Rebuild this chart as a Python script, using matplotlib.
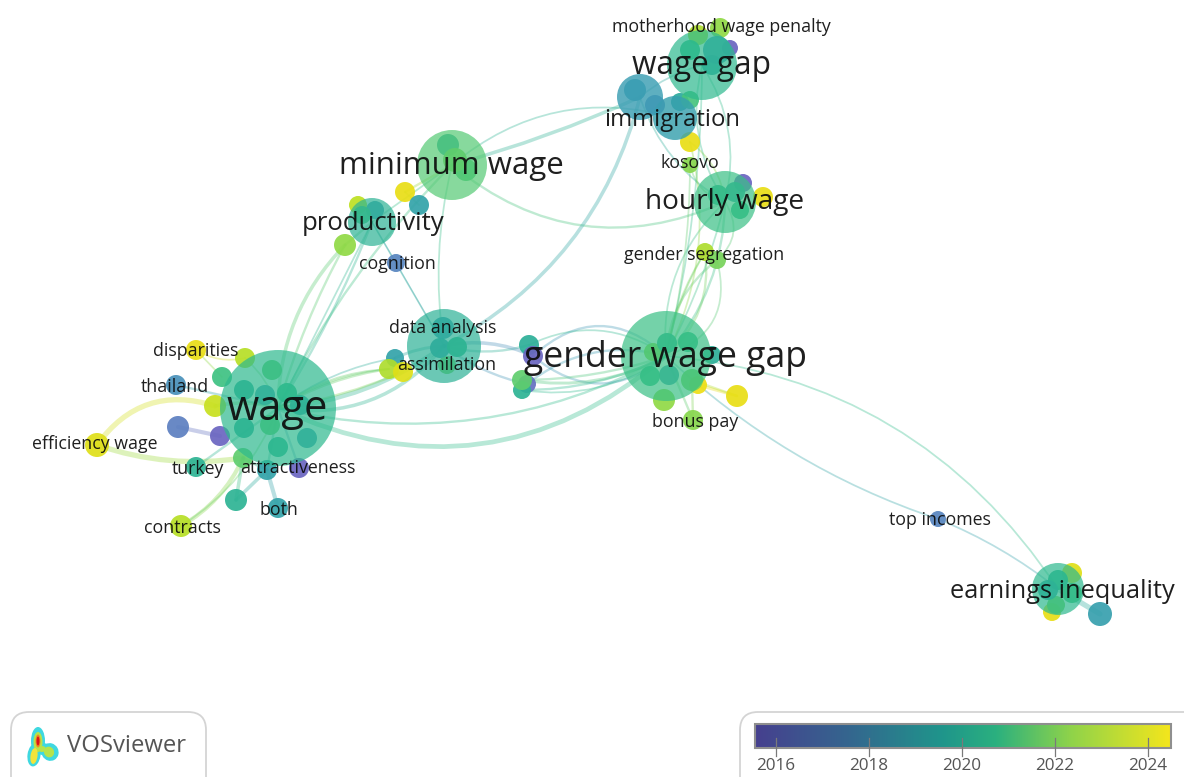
import matplotlib
matplotlib.use("Agg")
import matplotlib.pyplot as plt
import numpy as np
from matplotlib.colors import LinearSegmentedColormap, Normalize
from matplotlib.patches import Circle, FancyBboxPatch, PathPatch, Ellipse
from matplotlib.path import Path

plt.rcParams['font.family'] = ['Open Sans', 'DejaVu Sans']

# --- nodes: id, x, y, radius, average publication year
node_id = ['wage','gwg','gap','minw','hourly','dataB','prod','immA','immB','earn',
 'disp','w1','w2','thai','w3','w4','w5','eff','turk','w6','w7','w8','w9','both','contr',
 'wi1','wi2','wi3','wi4','wi5','wi6','wi7','wi8','wi9',
 'r1','r2','r3','p1','p2','p3','p4','cog','pi1','pi2',
 'mi1','mi2','mi3','d1','d2','d3','d4',
 'm1','m2','m3','m4','m5',
 'g1','g2','g3','g4','g5','g6','g7','g8','g9','bonus','g10',
 'h1','h2','h3','h4','h5','seg1','seg2','kos','k2',
 'i1','i2','i3','i4','mot','a1','a2','a3','a4','a5',
 'top','e1','e2','e3','e4','e5','e6','e7']
node_x = [278,666,702,452,725,444,372,675,640,1058,
 196,245,222,176,215,178,220,97,196,243,267,299,236,278,181,
 272,244,265,287,300,244,270,278,307,
 389,403,395,358,405,419,345,396,375,362,
 448,455,466,443,440,457,447,
 529,533,527,522,522,
 653,667,688,669,650,692,664,698,737,693,712,
 743,735,763,718,740,705,717,690,690,
 635,655,680,690,720,698,717,730,690,712,
 938,1072,1052,1100,1058,1048,1072,1056]
node_y = [408,356,65,165,202,346,222,118,97,589,
 350,358,377,385,406,427,436,445,467,458,470,468,500,508,526,
 370,390,395,393,405,428,425,447,438,
 369,372,358,205,192,205,245,263,210,215,
 145,160,170,328,348,347,365,
 345,356,384,380,390,
 352,343,342,375,376,380,400,385,396,420,355,
 183,192,197,195,210,252,260,165,142,
 90,105,102,100,28,35,50,48,50,65,
 519,573,612,614,580,590,593,605]
node_r = [58,45,35,35,31,37,24,22,23,26,
 10,10,10,10,11,11,10,12,10,10,10,10,11,10,11,
 10,10,10,10,10,10,10,10,10,
 10,10,9,9,10,10,11,9,9,9,
 11,12,11,11,10,10,9,
 10,10,9,10,9,
 9,10,10,10,10,11,11,9,11,10,9,
 9,10,10,10,9,9,9,8,10,
 11,10,9,9,10,10,14,8,10,10,
 8,10,9,12,10,10,10,9]
node_year = [2020.3,2020.7,2020.3,2021.3,2020.7,2019.9,2020.0,2018.8,2018.6,2020.3,
 2024.2,2023.2,2020.8,2018.0,2023.5,2017.2,2016.0,2024.0,2020.0,2021.5,2019.0,2016.0,2020.0,2019.0,2023.2,
 2021.5,2019.5,2018.5,2020.5,2019.0,2019.5,2021.5,2020.0,2018.5,
 2023.0,2024.0,2019.0,2023.3,2024.2,2019.0,2022.5,2017.5,2018.5,2021.0,
 2019.5,2022.0,2021.0,2018.6,2019.0,2020.5,2022.0,
 2019.8,2016.0,2016.5,2021.5,2020.0,
 2022.5,2020.0,2020.5,2018.8,2020.5,2022.0,2022.5,2024.3,2024.2,2022.3,2019.8,
 2016.0,2019.3,2024.2,2020.0,2020.5,2023.0,2022.0,2022.3,2024.2,
 2018.6,2017.5,2019.5,2021.0,2022.5,2023.0,2018.5,2016.0,2020.5,2019.0,
 2017.5,2024.0,2024.2,2018.8,2020.0,2019.0,2021.0,2022.0]

# --- links: source, target, strength, bend
edge_source = ['wage','wage','wage','wage','wage','wage','wage','wage','wage','wage','wage','wage',
 'eff','eff','w4','thai','disp','disp','contr','contr','turk','both','w9','w9','w6','w7','w8',
 'minw','minw','minw','minw','minw','dataB','dataB','prod','cog','prod','dataB','prod','p2',
 'gwg','gwg','gwg','gwg','gwg','gwg','gap','gap','gap','immB','hourly','gwg','gwg',
 'gwg','gwg','top','earn','m2','m2','m1','m3','m4','m5','m4','m5','dataB','g9','g9','g8','bonus','g6',
 'kos','k2','k2','seg1','kos','wage','wage','wage','dataB','prod','p2']
edge_target = ['gwg','gwg','dataB','dataB','r1','r2','r1','w3','p4','p4','minw','prod',
 'w3','w6','w5','wage','w1','w2','w6','wage','wage','w7','w7','w6','w7','wage','wage',
 'immA','immB','hourly','dataB','prod','immB','m1','dataB','dataB','cog','r3','p4','minw',
 'hourly','seg1','seg2','gap','hourly','seg1','hourly','hourly','immB','hourly','seg2','seg2','hourly',
 'earn','top','earn','e3','gwg','gwg','gwg','gwg','gwg','gwg','gwg','gwg','m2','g8','g6','g6','gwg','bonus',
 'hourly','hourly','gwg','gwg','gwg','r3','r1','w1','m3','wage','p3']
edge_weight = [4,2,4,3,2,2,1.5,3,3,2,2,2,
 4.5,4.5,3.5,2,1.5,1.5,3.5,1.5,2,3.5,3,3,2.5,2,2,
 1.5,3,2,1.5,1.5,3,2,1.5,1,1,2.5,2,2,
 2,2,2,1.5,1.5,1.5,1.5,1.5,1.5,1.5,1.5,1.5,1.5,
 1.5,1.5,1.5,4.5,2,2,1.5,2,2.5,2,2,1.5,3,2.5,2,2,2,2,
 1.5,1.5,1.5,1.5,1.5,1.5,1.5,1.5,2,1.5,1.5]
edge_bend = [-125,-75,-25,-50,12,-8,15,-8,35,10,25,-10,
 45,-18,0,0,-10,0,-15,-25,0,0,0,0,0,0,0,
 60,-8,-85,-18,0,-70,-12,0,0,0,-5,0,0,
 -30,-30,25,-18,40,12,30,-30,-8,-25,25,-50,-10,
 110,-35,10,0,60,-55,40,35,-25,-18,-12,-30,15,0,0,0,0,0,
 -15,15,40,-10,12,15,18,-8,-10,0,0]

# --- labels
label_text = ['wage','gender wage gap','wage gap','minimum wage','hourly wage','productivity',
 'immigration','earnings inequality','motherhood wage penalty','kosovo','gender segregation',
 'cognition','data analysis','assimilation','disparities','thailand','efficiency wage',
 'turkey','attractiveness','both','contracts','bonus pay','top incomes']
label_x = [277,666,701,451,725,373,672,1062,721,690,704,397,443,447,196,175,95,198,298,279,182,695,940]
label_y = [409,358,66,166,202,224,120,591,27,163,255,264,328,365,351,387,444,469,468,510,528,422,520]
label_size = [30,25.6,22.7,22.5,20.2,18.5,17.2,18.3,12.8,12.8,12.8,12.8,12.8,12.8,12.8,12.8,12.8,12.8,12.8,12.8,12.8,12.8,12.8]

# --- colour legend
legend_years = [2016, 2018, 2020, 2022, 2024]
year_min, year_max = 2015.55, 2024.5

cmap = LinearSegmentedColormap.from_list('vos', [
    (0.00, '#46408e'), (0.22, '#35658f'), (0.45, '#1f958b'),
    (0.58, '#2bb07f'), (0.76, '#8fd34a'), (1.00, '#f4e61c')])
norm = Normalize(year_min, year_max)
# marks render brighter than the legend ramp
node_cmap = LinearSegmentedColormap.from_list('vosnode', [
    (0.00, '#6f5cc0'), (0.20, '#5a82c0'), (0.33, '#3d9db5'), (0.43, '#2ba89f'),
    (0.55, '#2ebc8b'), (0.66, '#5ccc70'), (0.77, '#8dd848'), (0.87, '#bfe020'),
    (1.00, '#f6de12')])

fig = plt.figure(figsize=(11.84, 7.77), dpi=100)
ax = fig.add_axes([0, 0, 1, 1])
ax.set_xlim(0, 1184)
ax.set_ylim(777, 0)
ax.axis('off')

idx = {n: i for i, n in enumerate(node_id)}

for s, t, w, b in zip(edge_source, edge_target, edge_weight, edge_bend):
    i, j = idx[s], idx[t]
    p0 = np.array([node_x[i], node_y[i]], float)
    p1 = np.array([node_x[j], node_y[j]], float)
    d = p1 - p0
    perp = np.array([d[1], -d[0]]) / max(np.hypot(*d), 1e-6)
    c = (p0 + p1) / 2 + perp * b
    col = node_cmap(norm((node_year[i] + node_year[j]) / 2))
    ax.add_patch(PathPatch(Path([p0, c, p1], [Path.MOVETO, Path.CURVE3, Path.CURVE3]),
                           fc='none', ec=col, lw=w * 0.85, alpha=0.34, zorder=1,
                           capstyle='round'))

for k in np.argsort(node_r, kind='stable'):
    r = node_r[k]
    node_alpha = 0.7 if r >= 24 else (0.82 if r >= 20 else 0.92)
    ax.add_patch(Circle((node_x[k], node_y[k]), r,
                        fc=node_cmap(norm(node_year[k])), ec='none',
                        alpha=node_alpha, zorder=2 + r / 100))

for txt, x, y, fs in zip(label_text, label_x, label_y, label_size):
    ax.text(x, y, txt, fontsize=fs, ha='center', va='center', color='#0c0c0c',
            alpha=0.92, zorder=5)

# VOSviewer badge
ax.add_patch(FancyBboxPatch((11, 712), 195, 90, boxstyle='round,pad=0,rounding_size=18',
                            fc='white', ec='#d4d4d4', lw=1.3, zorder=3))
for (x, y, w, h, ang, col) in [
        (38, 741, 14, 28, 0, '#3fd8e0'), (34, 755, 13, 23, 8, '#3fd8e0'),
        (50, 752, 17, 18, -30, '#3fd8e0'), (43, 749, 14, 12, 0, '#3fd8e0'),
        (38, 742, 9, 20, 0, '#b6e34a'), (49, 752, 10, 11, -30, '#b6e34a'),
        (34, 756, 7, 16, 8, '#f2e43a'), (42, 749, 8, 6, 0, '#b6e34a'),
        (38, 741, 5, 13, 0, '#f08a24'), (38, 741, 3, 9, 0, '#d8141c')]:
    ax.add_patch(Ellipse((x, y), w, h, angle=ang, fc=col, ec='none', zorder=4))
ax.text(67, 746, 'VOSviewer', fontsize=17.2, color='#555555', ha='left', va='center', zorder=5)

# colour legend
ax.add_patch(FancyBboxPatch((740, 712), 480, 90, boxstyle='round,pad=0,rounding_size=18',
                            fc='white', ec='#d4d4d4', lw=1.3, zorder=3))
grad = np.linspace(0, 1, 512)[None, :]
ax.imshow(grad, cmap=cmap, extent=(755, 1171, 748, 724), aspect='auto', zorder=4)
ax.set_xlim(0, 1184)
ax.set_ylim(777, 0)
ax.add_patch(plt.Rectangle((755, 724), 416, 24, fc='none', ec='#8f8f8f', lw=1.5, zorder=5))
for yr in legend_years:
    x = 755 + (yr - year_min) / (year_max - year_min) * 416
    ax.plot([x, x], [738, 756], color='#7a7a7a', lw=0.9, zorder=6)
    ax.text(x, 766, str(yr), fontsize=12.3, color='#555555', ha='center', va='center', zorder=6)

fig.savefig('out.png', dpi=100, facecolor='white')
